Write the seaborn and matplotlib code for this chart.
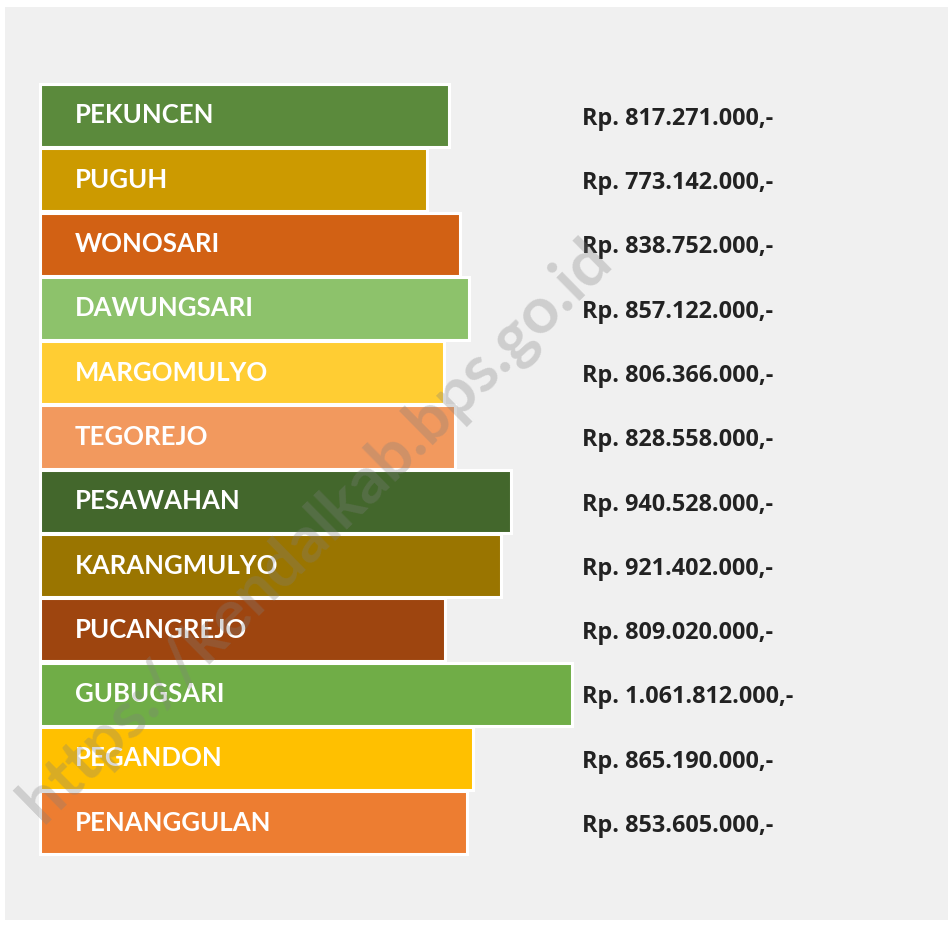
import seaborn as sns
import matplotlib.pyplot as plt
import pandas as pd

desa = ['PEKUNCEN', 'PUGUH', 'WONOSARI', 'DAWUNGSARI', 'MARGOMULYO', 'TEGOREJO',
        'PESAWAHAN', 'KARANGMULYO', 'PUCANGREJO', 'GUBUGSARI', 'PEGANDON', 'PENANGGULAN']
dana = [817271000, 773142000, 838752000, 857122000, 806366000, 828558000,
        940528000, 921402000, 809020000, 1061812000, 865190000, 853605000]
warna = ['#5B8A3C', '#CC9A00', '#D26114', '#8DC26B', '#FFCD33', '#F2995E',
         '#43672C', '#9A7500', '#9E450F', '#70AD47', '#FFC000', '#ED7D31']

df = pd.DataFrame({'desa': desa, 'dana': dana})

sns.set_style('white')
plt.rcParams['font.family'] = ['Lato', 'DejaVu Sans']

fig = plt.figure(figsize=(9.52, 9.26), dpi=100, facecolor='white')
# panel abu-abu
ax = fig.add_axes([5/952, 6/926, 943/952, 913/926])
ax.set_facecolor('#F0F0F0')

sns.barplot(data=df, x='dana', y='desa', hue='desa', palette=warna, legend=False,
            orient='h', width=0.98, edgecolor='white', linewidth=2.2,
            saturation=1, ax=ax)

skala = 0.5008e-6  # piksel per rupiah
ax.set_xlim(-35 / skala, 908 / skala)
ax.set_ylim((920 - 115.5) / 64.3, (7 - 115.5) / 64.3)

for i, (nama, v) in enumerate(zip(desa, dana)):
    ax.text(35 / skala, i, nama, color='white', fontsize=18.5, fontweight='bold',
            va='center', ha='left')
    teks = 'Rp. ' + f'{v:,}'.replace(',', '.') + ',-'
    ax.text(542 / skala, i + 0.05, teks, color='#222222', fontsize=16.8,
            fontweight='bold', va='center', ha='left', family='Open Sans')

ax.set_xlabel('')
ax.set_ylabel('')
ax.set_xticks([])
ax.set_yticks([])
for s in ax.spines.values():
    s.set_visible(False)

# watermark
fig.text(316/952, 1 - 532/926, 'https://kendalkab.bps.go.id', rotation=44.5,
         fontsize=47, fontweight='bold', color='#7F7F7F', alpha=0.3,
         ha='center', va='center', zorder=10)

fig.savefig('out.png', dpi=100, facecolor='white')
